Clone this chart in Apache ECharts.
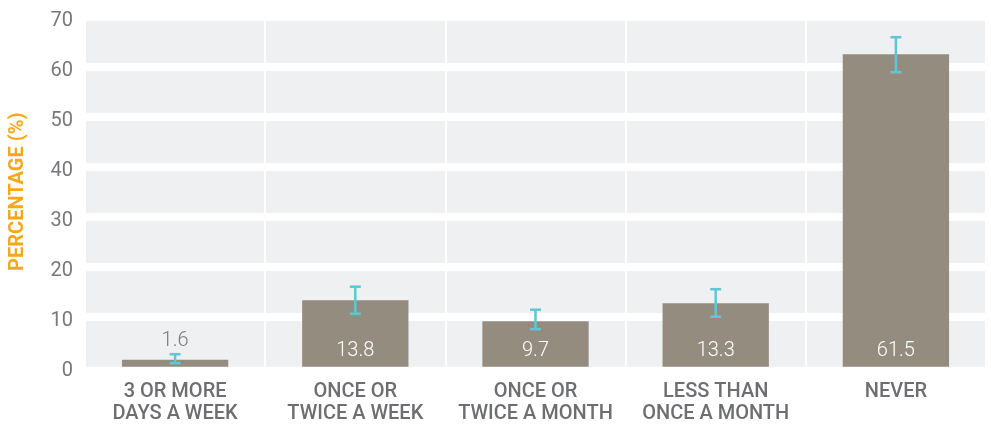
<!DOCTYPE html>
<html>
<head>
<meta charset="utf-8">
<script src="https://cdn.jsdelivr.net/npm/echarts@6/dist/echarts.min.js"></script>
<style>html,body{margin:0;padding:0;background:#fff}#c{width:991px;height:434px}</style>
</head>
<body>
<div id="c"></div>
<script>
var categories = ['3 OR MORE\nDAYS A WEEK', 'ONCE OR\nTWICE A WEEK', 'ONCE OR\nTWICE A MONTH', 'LESS THAN\nONCE A MONTH', 'NEVER'];
var barHeights = [1.4, 13.3, 9.1, 12.7, 62.5];
var valueLabels = ['1.6', '13.8', '9.7', '13.3', '61.5'];
var errLow = [0.7, 10.6, 7.5, 10.0, 58.9];
var errHigh = [2.5, 16.0, 11.4, 15.5, 65.9];
var yTicks = [0, 10, 20, 30, 40, 50, 60, 70];

var chart = echarts.init(document.getElementById('c'));
var barData = barHeights.map(function (v, i) {
  var item = { value: v };
  if (i === 0) {
    item.label = { position: 'top', distance: 9, color: '#77787b' };
  }
  return item;
});
var errData = categories.map(function (c, i) { return [i, errLow[i], errHigh[i]]; });

chart.setOption({
  animation: false,
  grid: { left: 83, right: 5, top: 16.7, bottom: 67.3, show: true, backgroundColor: '#eff0f2', borderWidth: 0 },
  xAxis: {
    type: 'category',
    data: categories,
    axisLine: { show: false },
    axisTick: { show: false },
    splitLine: { show: true, interval: 0, lineStyle: { color: '#ffffff', width: 2 } },
    axisLabel: { interval: 0, color: '#6d6e71', fontFamily: 'Roboto', fontWeight: 500, fontSize: 20, lineHeight: 22, margin: 14 }
  },
  yAxis: {
    type: 'value',
    min: yTicks[0],
    max: yTicks[yTicks.length - 1],
    interval: 10,
    name: 'PERCENTAGE (%)',
    nameLocation: 'middle',
    nameRotate: 90,
    nameGap: 57,
    nameTextStyle: { color: '#f5a81c', fontFamily: 'Roboto', fontWeight: 'bold', fontSize: 20 },
    axisLine: { show: false },
    axisTick: { show: false },
    splitLine: { show: true, showMinLine: false, lineStyle: { color: '#ffffff', width: 8 } },
    axisLabel: { color: '#77787b', fontFamily: 'Roboto', fontSize: 20, margin: 12, verticalAlign: 'top', lineHeight: 8 }
  },
  series: [
    {
      type: 'bar',
      data: barData,
      barWidth: '59%',
      itemStyle: { color: '#958c80' },
      label: {
        show: true,
        position: 'insideBottom',
        distance: 6,
        color: '#ffffff',
        fontFamily: 'Roboto',
        fontWeight: 300,
        fontSize: 20,
        formatter: function (p) { return valueLabels[p.dataIndex]; }
      },
      z: 2
    },
    {
      type: 'custom',
      data: errData,
      encode: { x: 0, y: [1, 2] },
      z: 3,
      renderItem: function (params, api) {
        var i = api.value(0);
        var lo = api.coord([i, api.value(1)]);
        var hi = api.coord([i, api.value(2)]);
        var hw = 5.5;
        var st = { stroke: '#5ec6d6', lineWidth: 2.5 };
        return {
          type: 'group',
          children: [
            { type: 'line', shape: { x1: hi[0], y1: hi[1], x2: lo[0], y2: lo[1] }, style: st },
            { type: 'line', shape: { x1: hi[0] - hw, y1: hi[1], x2: hi[0] + hw, y2: hi[1] }, style: st },
            { type: 'line', shape: { x1: lo[0] - hw, y1: lo[1], x2: lo[0] + hw, y2: lo[1] }, style: st }
          ]
        };
      }
    }
  ]
});
</script>
</body>
</html>
